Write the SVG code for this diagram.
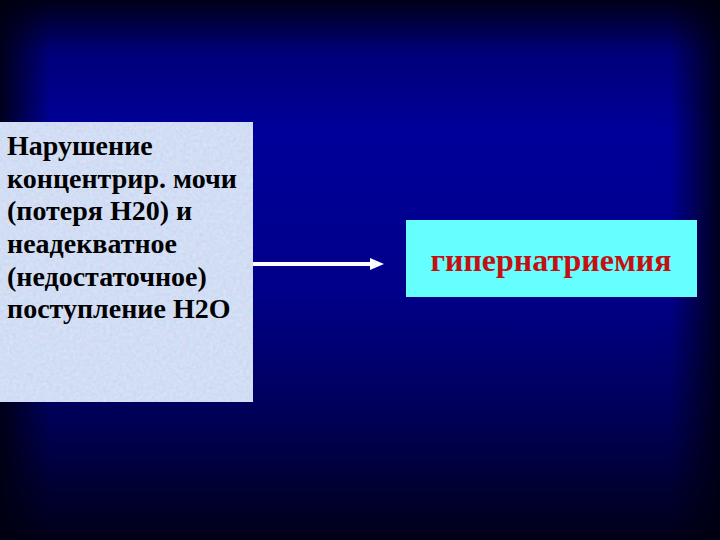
<svg xmlns="http://www.w3.org/2000/svg" width="720" height="540" viewBox="0 0 720 540">
<defs>
<linearGradient id="bgv" x1="0" y1="0" x2="0" y2="1">
<stop offset="0" stop-color="#000018"/>
<stop offset="0.1" stop-color="#00007a"/>
<stop offset="0.25" stop-color="#00009a"/>
<stop offset="0.55" stop-color="#000088"/>
<stop offset="0.8" stop-color="#000050"/>
<stop offset="1" stop-color="#000018"/>
</linearGradient>
<linearGradient id="bgh" x1="0" y1="0" x2="1" y2="0">
<stop offset="0" stop-color="#000010" stop-opacity="0.9"/>
<stop offset="0.07" stop-color="#000010" stop-opacity="0"/>
<stop offset="0.93" stop-color="#000010" stop-opacity="0"/>
<stop offset="1" stop-color="#000010" stop-opacity="0.9"/>
</linearGradient>
<filter id="tex" x="0" y="0" width="1" height="1">
<feTurbulence type="fractalNoise" baseFrequency="0.3" numOctaves="2" seed="4" result="n"/>
<feColorMatrix in="n" type="matrix" values="0.8 0 0 0 0.4  0 0.6 0 0 0.55  0 0 0.4 0 0.75  0 0 0 0 0.3" result="c"/>
<feComposite in="c" in2="SourceGraphic" operator="over"/>
</filter>
<marker id="ah" markerWidth="3.5" markerHeight="3" refX="0" refY="1.5" orient="auto" markerUnits="strokeWidth">
<path d="M0,0 L3.5,1.5 L0,3 Z" fill="#ffffff"/>
</marker>
<style>
.lt{font-family:"Liberation Serif","Times New Roman",serif;font-weight:bold;font-size:28px;fill:#000000}
.rt{font-family:"Liberation Serif","Times New Roman",serif;font-weight:bold;font-size:32px;fill:#c41010}
</style>
</defs>
<rect x="0" y="0" width="720" height="540" fill="url(#bgv)"/>
<rect x="0" y="0" width="720" height="540" fill="url(#bgh)"/>
<g id="node-cause">
<rect x="0" y="122" width="253" height="280" fill="#c8d6f2" filter="url(#tex)"/>
<text class="lt" x="7" y="155">Нарушение</text>
<text class="lt" x="7" y="188">концентрир. мочи</text>
<text class="lt" x="7" y="220">(потеря Н20) и</text>
<text class="lt" x="7" y="253">неадекватное</text>
<text class="lt" x="7" y="286">(недостаточное)</text>
<text class="lt" x="7" y="318">поступление Н2О</text>
</g>
<g id="node-effect">
<rect x="406" y="220" width="291" height="77" fill="#66ffff"/>
<text class="rt" x="551" y="271" text-anchor="middle">гипернатриемия</text>
</g>
<g id="connectors">
<line x1="253" y1="264" x2="370" y2="264" stroke="#ffffff" stroke-width="4" marker-end="url(#ah)"/>
</g>
</svg>
